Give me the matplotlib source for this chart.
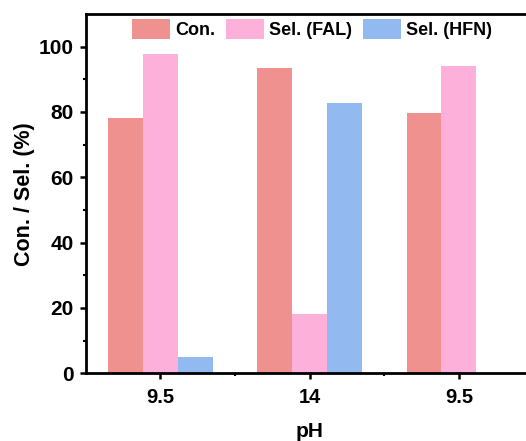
import matplotlib
matplotlib.use('Agg')
import matplotlib.pyplot as plt
import numpy as np

plt.rcParams['font.family'] = ['Liberation Sans', 'DejaVu Sans']
plt.rcParams['font.weight'] = 'bold'

# pH of each run and measured conversion / selectivity (%)
ph_labels = ['9.5', '14', '9.5']
conversion = [78.1, 93.4, 79.6]
sel_fal = [97.7, 18.2, 94.0]
sel_hfn = [4.9, 82.6, 0.0]

series = [('Con.', conversion, '#EF928F'),
          ('Sel. (FAL)', sel_fal, '#FCB0DA'),
          ('Sel. (HFN)', sel_hfn, '#93BAF0')]

fig = plt.figure(figsize=(5.26, 4.41), dpi=100)
ax = fig.add_axes([85.8 / 526, 1 - 373.3 / 441, (533.5 - 85.8) / 526, (373.3 - 14) / 441])

x = np.arange(len(ph_labels))
w = 0.233
for i, (name, vals, col) in enumerate(series):
    ax.bar(x + (i - 1) * w, vals, w, color=col, label=name, linewidth=0)

ax.set_xlim(-0.5, 2.5)
ax.set_ylim(0, 110)
ax.set_xticks(x)
ax.set_xticklabels(ph_labels)
ax.set_xticks(x[:-1] + 0.5, minor=True)
ax.set_yticks(np.arange(0, 101, 20))
ax.set_yticks(np.arange(10, 101, 20), minor=True)

for s in ax.spines.values():
    s.set_linewidth(2)
ax.spines['right'].set_visible(False)

ax.tick_params(which='major', direction='out', length=4.5, width=1.8, pad=4)
ax.tick_params(which='minor', direction='out', length=2.5, width=1.5)
ax.tick_params(axis='y', which='major', labelsize=15)
ax.tick_params(axis='x', which='major', labelsize=14.5, pad=6)

ax.set_xlabel('pH', fontsize=15, fontweight='bold', labelpad=11)
ax.set_ylabel('Con. / Sel. (%)', fontsize=15.5, fontweight='bold', labelpad=3)

ax.legend(loc='upper left', bbox_to_anchor=(0.0795, 1.015), ncol=3, frameon=False,
          fontsize=13, handlelength=2.1, handleheight=1.3, handletextpad=0.28,
          columnspacing=0.6, borderaxespad=0.2)

plt.savefig('out.png', dpi=100)
plt.close()
